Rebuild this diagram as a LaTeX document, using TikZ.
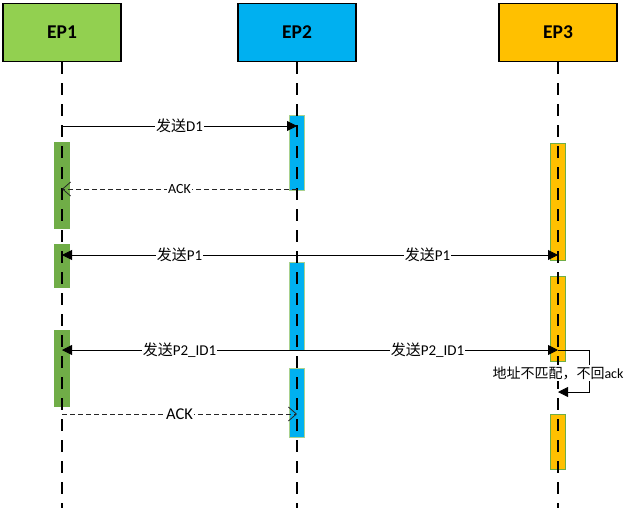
\documentclass[tikz,border=0pt]{standalone}
\usepackage{fontspec}
\setmainfont{Carlito}
\newfontfamily\cjk{Noto Sans CJK SC}
\usetikzlibrary{arrows.meta}
\definecolor{hdrA}{HTML}{92D050}
\definecolor{hdrB}{HTML}{00B0F0}
\definecolor{hdrC}{HTML}{FFC000}
\definecolor{barA}{HTML}{70AD47}
\definecolor{barEdge}{HTML}{A9D18E}
\newcommand{\zh}[1]{{\cjk #1}}
\tikzset{
  head/.style={draw=black, line width=1.6pt, minimum width=118pt, minimum height=58pt, inner sep=0pt,
    font=\bfseries\fontsize{19.5}{19.5}\selectfont},
  actbar/.style={draw=barEdge, line width=0.6pt, minimum width=15pt, inner sep=0pt},
  life/.style={draw=black, line width=1.4pt, dash pattern=on 12pt off 9pt},
  msg/.style={draw=black, line width=0.8pt},
  fillhead/.style={-{Triangle[length=10pt,width=10pt]}},
  openhead/.style={-{Straight Barb[length=8pt,width=14pt,line width=0.8pt]}},
  ackline/.style={draw=black!85, line width=0.9pt, dash pattern=on 5pt off 3pt},
  lab/.style={fill=white, inner sep=1pt, font=\fontsize{15}{15}\selectfont},
  labn/.style={fill=white, inner sep=1pt, font=\fontsize{14}{14}\selectfont},
  labs/.style={fill=white, inner sep=1pt, font=\fontsize{14}{14}\selectfont},
  labm/.style={fill=white, inner sep=1pt, font=\fontsize{16.5}{16.5}\selectfont},
}
\begin{document}
\begin{tikzpicture}[x=1pt,y=-1pt]
\useasboundingbox (0,0) rectangle (634,512);
% headers
\node[head, fill=hdrA] (ep1) at (62,32.5) {EP1};
\node[head, fill=hdrB] (ep2) at (297,32.5) {EP2};
\node[head, fill=hdrC] (ep3) at (558,32.5) {EP3};
% activation bars
\node[actbar, fill=barA, draw=barA, minimum height=86pt] (a1) at (62,185) {};
\node[actbar, fill=barA, draw=barA, minimum height=43pt] (a2) at (62,265.5) {};
\node[actbar, fill=barA, draw=barA, minimum height=76pt] (a3) at (62,368) {};
\node[actbar, fill=hdrB, minimum height=75pt] (b1) at (297,152.5) {};
\node[actbar, fill=hdrB, minimum height=88pt] (b2) at (297,306) {};
\node[actbar, fill=hdrB, minimum height=69pt] (b3) at (297,402.5) {};
\node[actbar, fill=hdrC, draw=barA, minimum height=117pt] (c1) at (558,201.5) {};
\node[actbar, fill=hdrC, draw=barA, minimum height=85pt] (c2) at (558,318.5) {};
\node[actbar, fill=hdrC, draw=barA, minimum height=55pt] (c3) at (558,441.5) {};
% lifelines
\coordinate (e1) at (62,508);
\coordinate (e2) at (297,508);
\coordinate (e3) at (558,508);
\draw[life] (ep1.south) -- (e1);
\draw[life] (ep2.south) -- (e2);
\draw[life] (ep3.south) -- (e3);
% message points
\coordinate (d1a) at (62,126);  \coordinate (d1b) at (297,126);
\coordinate (k1a) at (297,189); \coordinate (k1b) at (62,189);
\coordinate (p1a) at (62,255);  \coordinate (p1b) at (297,255); \coordinate (p1c) at (558,255);
\coordinate (p2a) at (62,350);  \coordinate (p2b) at (297,350); \coordinate (p2c) at (558,350);
\coordinate (lpA) at (589,350); \coordinate (lpB) at (589,392); \coordinate (lpC) at (558,392);
\coordinate (k2a) at (62,414);  \coordinate (k2b) at (297,414);
% messages
\draw[msg, fillhead] (d1a) -- node[lab] {\zh{发送}D1} (d1b);
\draw[ackline, openhead] (k1a) -- node[labs] {ACK} (k1b);
\draw[msg, fillhead] (p1b) -- node[lab] {\zh{发送}P1} (p1a);
\draw[msg, fillhead] (p1b) -- node[lab] {\zh{发送}P1} (p1c);
\draw[msg, fillhead] (p2b) -- node[lab] {\zh{发送}P2\_ID1} (p2a);
\draw[msg, fillhead] (p2b) -- node[lab] {\zh{发送}P2\_ID1} (p2c);
\draw[msg, fillhead] (p2c) -- (lpA) -- (lpB) -- (lpC);
\node[labn] (note) at (558,373) {\zh{地址不匹配，不回}ack};
\draw[ackline, openhead] (k2a) -- node[labm] {ACK} (k2b);
\end{tikzpicture}
\end{document}
